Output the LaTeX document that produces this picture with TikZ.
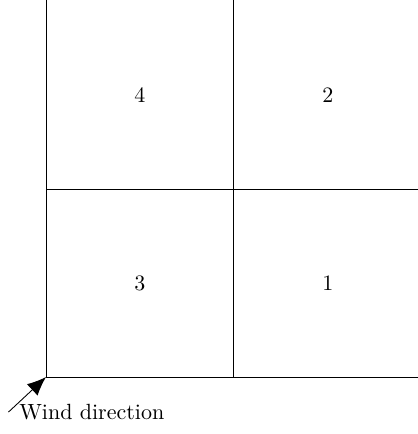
\documentclass[tikz,border=0pt]{standalone}
\usepackage{amsmath}
\usepackage{tikz}
\usetikzlibrary{arrows.meta}

\begin{document}
\begin{tikzpicture}[>={Latex[length=3mm,width=2.5mm]}, cell/.style={inner sep=0pt}]
  \useasboundingbox (-0.735,-0.91) rectangle (5.93,6.02);
  \draw (0,0) -- (6,0);
  \draw (0,3) -- (6,3);
  \draw (0,0) -- (0,6.1);
  \draw (3,0) -- (3,6.1);
  \node[cell] (q4) at (1.5,4.5) {4};
  \node[cell] (q2) at (4.5,4.5) {2};
  \node[cell] (q3) at (1.5,1.5) {3};
  \node[cell] (q1) at (4.5,1.5) {1};
  \coordinate (corner) at (0,0);
  \coordinate (wind) at (-0.6,-0.56);
  \node[anchor=west, xshift=0.05cm] (windlabel) at (wind) {Wind direction};
  \draw[->] (wind) -- (corner);
\end{tikzpicture}
\end{document}
